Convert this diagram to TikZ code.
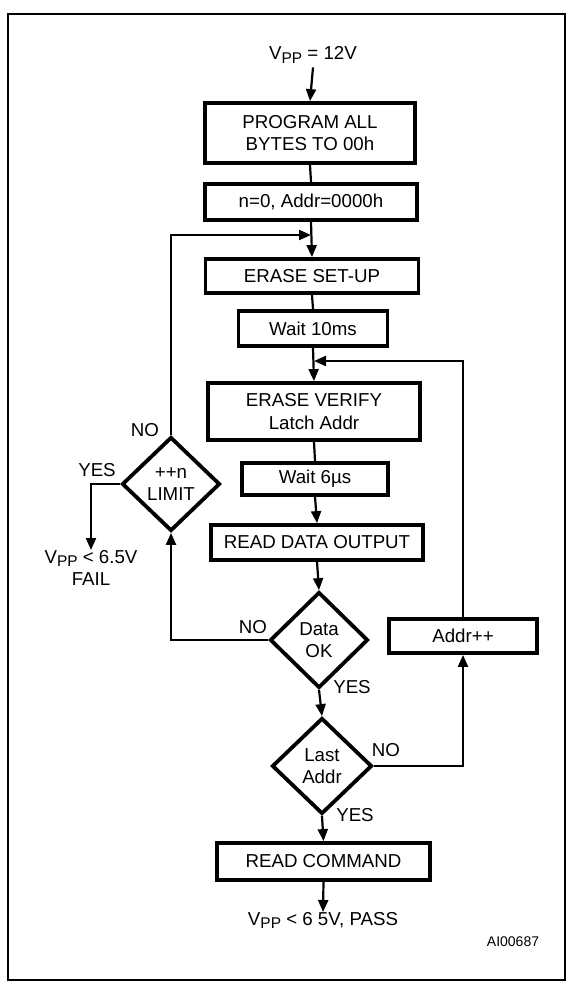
\documentclass[tikz,border=0pt]{standalone}
\usepackage{fontspec}
\setmainfont{Liberation Sans}
\usetikzlibrary{shapes.geometric,arrows.meta}
\newcommand\myvpp{V\raisebox{-0.35ex}{\fontsize{15.5}{15.5}\selectfont PP}}
\tikzset{
  base/.style={font=\fontsize{18.7}{22.5}\selectfont, align=center, inner sep=0pt},
  boxn/.style={base, draw, line width=3.8pt},
  dia/.style={base, draw, diamond, line width=3.8pt},
  lbl/.style={base},
  conn/.style={line width=2.2pt},
  arr/.style={conn, -{Triangle[length=12pt,width=10pt]}},
}
\begin{document}
\begin{tikzpicture}[x=1pt,y=-1pt]
\useasboundingbox (0,0) rectangle (572,987);
\draw[line width=2.8pt] (8,14) rectangle (565,980);

\node[lbl] (vpp) at (313,55) {\myvpp{} = 12V};
\node[boxn, minimum width=210, minimum height=60] (prog) at (310,133) {PROGRAM ALL\\BYTES TO 00h};
\node[boxn, minimum width=212, minimum height=36] (init) at (311,202) {n=0, Addr=0000h};
\node[boxn, minimum width=213, minimum height=34] (erase) at (312,276) {ERASE SET-UP};
\node[boxn, minimum width=149, minimum height=35] (w10) at (313,328.5) {Wait 10ms};
\node[boxn, minimum width=212, minimum height=57] (ev) at (314,411.5) {ERASE VERIFY\\Latch Addr};
\node[boxn, minimum width=146, minimum height=32] (w6) at (315,479) {Wait 6µs};
\node[boxn, minimum width=212, minimum height=35] (rdo) at (317,542.5) {READ DATA OUTPUT};
\node[dia, minimum width=98, minimum height=96] (dok) at (319,640) {Data\\OK};
\node[boxn, minimum width=148, minimum height=34] (addr) at (463,636) {Addr++};
\node[dia, minimum width=100, minimum height=96] (last) at (322,766) {Last\\Addr};
\node[boxn, minimum width=213, minimum height=37] (rc) at (323.5,861.5) {READ COMMAND};
\node[lbl, anchor=north] (pass) at (323,912) {\myvpp{} < 6 5V, PASS};
\node[dia, minimum width=98, minimum height=94] (lim) at (171,484) {++n\\LIMIT};
\node[lbl, anchor=north] (fail) at (91,550) {\myvpp{} < 6.5V\\FAIL};
\node[lbl, font=\fontsize{14}{16}\selectfont] (aid) at (513,942) {AI00687};

\coordinate (j1) at (311,235);
\coordinate (j2) at (314,361);

\draw[arr] (vpp.south) ++(0,4) coordinate (vs) (vs) -- (prog.north);
\draw[conn] (prog.south) -- (init.north);
\draw[arr] (init.south) -- (erase.north);
\draw[conn] (erase.south) -- (w10.north);
\draw[arr] (w10.south) -- (ev.north);
\draw[conn] (ev.south) -- (w6.north);
\draw[arr] (w6.south) -- (rdo.north);
\draw[arr] (rdo.south) -- (dok.north);
\draw[arr] (dok.south) -- (last.north);
\draw[arr] (last.south) -- (rc.north);
\draw[arr] (rc.south) -- (pass.north);

\draw[arr] (lim.north) |- (j1);
\draw[arr] (addr.north) |- (j2);
\draw[arr] (dok.west) -| (lim.south);
\draw[arr] (last.east) -| (addr.south);
\draw[arr] (lim.west) -| (fail.north);

\node[lbl] (l1) at (145,430) {NO};
\node[lbl] (l2) at (97,470) {YES};
\node[lbl] (l3) at (253,627) {NO};
\node[lbl] (l4) at (352,687) {YES};
\node[lbl] (l5) at (386,750) {NO};
\node[lbl] (l6) at (355,815) {YES};
\end{tikzpicture}
\end{document}
